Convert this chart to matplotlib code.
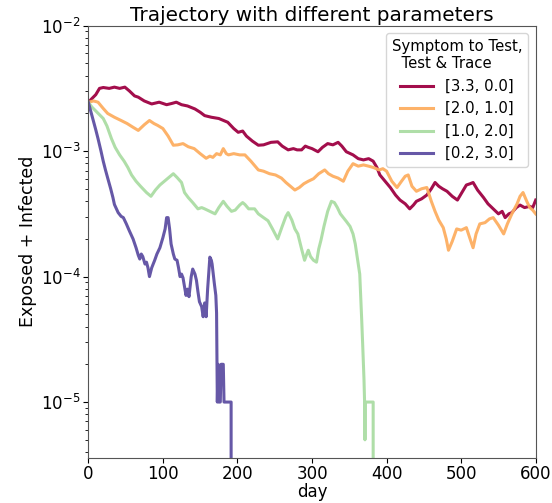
import numpy as np
import matplotlib
matplotlib.use("Agg")
import matplotlib.pyplot as plt

# ---- data (log10 of Exposed + Infected fraction) ----
red_days = [0, 5, 10, 15, 20, 28, 35, 42, 49, 55, 62, 67, 75, 85, 95, 105, 112, 118, 125, 133,
            143, 150, 156, 165, 175, 187, 195, 201, 207, 212, 220, 228, 235, 245, 254, 260, 268,
            275, 280, 286, 291, 295, 300, 308, 314, 321, 328, 335, 340, 346, 355, 362, 369, 376,
            382, 387, 391, 398, 405, 412, 418, 425, 431, 436, 440, 447, 454, 460, 465, 470, 475,
            481, 488, 495, 501, 507, 512, 516, 522, 530, 536, 543, 550, 555, 559, 564, 568, 574,
            579, 585, 592, 596, 600]
red_log = [-2.611, -2.58, -2.55, -2.50, -2.493, -2.50, -2.49, -2.50, -2.49, -2.52, -2.56, -2.57,
           -2.60, -2.624, -2.61, -2.63, -2.62, -2.61, -2.63, -2.64, -2.664, -2.69, -2.717, -2.73,
           -2.74, -2.77, -2.82, -2.85, -2.84, -2.88, -2.92, -2.953, -2.95, -2.93, -2.926, -2.96,
           -2.99, -2.98, -2.99, -2.99, -2.96, -2.97, -2.98, -3.005, -2.97, -2.94, -2.95, -2.93,
           -2.96, -3.005, -3.03, -3.06, -3.07, -3.06, -3.08, -3.13, -3.19, -3.24, -3.29, -3.35,
           -3.39, -3.42, -3.46, -3.43, -3.40, -3.38, -3.35, -3.30, -3.25, -3.28, -3.30, -3.32,
           -3.36, -3.39, -3.33, -3.27, -3.26, -3.25, -3.31, -3.37, -3.42, -3.46, -3.50, -3.48,
           -3.53, -3.50, -3.49, -3.45, -3.43, -3.45, -3.44, -3.45, -3.39]

orange_days = [0, 7, 13, 20, 26, 35, 44, 52, 60, 67, 75, 82, 88, 93, 100, 107, 114, 120, 127, 134,
               142, 150, 158, 163, 167, 172, 177, 181, 185, 188, 195, 203, 210, 218, 228, 235, 243,
               251, 259, 265, 271, 277, 283, 289, 295, 302, 309, 317, 322, 328, 335, 342, 348, 355,
               362, 369, 376, 382, 390, 395, 400, 407, 414, 420, 425, 429, 434, 440, 447, 454, 460,
               465, 470, 476, 480, 483, 488, 494, 500, 507, 512, 516, 520, 525, 532, 538, 543, 550,
               557, 562, 568, 575, 579, 583, 588, 592, 596, 600]
orange_log = [-2.611, -2.60, -2.61, -2.66, -2.70, -2.73, -2.756, -2.78, -2.81, -2.835, -2.79,
              -2.756, -2.78, -2.795, -2.82, -2.88, -2.953, -2.95, -2.94, -2.965, -2.98, -3.02,
              -3.057, -3.04, -3.05, -3.02, -3.03, -2.98, -3.02, -3.03, -3.02, -3.03, -3.03, -3.08,
              -3.15, -3.16, -3.18, -3.19, -3.215, -3.25, -3.28, -3.31, -3.29, -3.26, -3.24, -3.22,
              -3.18, -3.15, -3.18, -3.20, -3.215, -3.24, -3.16, -3.10, -3.12, -3.11, -3.12, -3.13,
              -3.15, -3.14, -3.16, -3.24, -3.29, -3.24, -3.20, -3.19, -3.28, -3.32, -3.30, -3.29,
              -3.40, -3.48, -3.55, -3.61, -3.70, -3.79, -3.72, -3.62, -3.63, -3.61, -3.70, -3.77,
              -3.66, -3.58, -3.57, -3.54, -3.53, -3.59, -3.66, -3.58, -3.50, -3.42, -3.36, -3.33,
              -3.40, -3.45, -3.47, -3.50]

green_days = [0, 5, 10, 15, 20, 25, 31, 36, 42, 48, 53, 58, 64, 70, 78, 84, 90, 96, 102, 108, 114,
              119, 125, 129, 134, 140, 147, 152, 156, 163, 170, 175, 181, 186, 192, 197, 203, 207,
              210, 215, 223, 228, 235, 241, 247, 254, 260, 265, 268, 273, 277, 281, 286, 290, 293,
              295, 298, 302, 306, 309, 312, 316, 321, 326, 330, 334, 338, 342, 346, 351, 355, 358,
              362, 364, 366.6, 368, 369.7, 370.5, 371, 371.5, 382, 382.5]
green_log = [-2.611, -2.65, -2.68, -2.71, -2.74, -2.80, -2.90, -2.97, -3.03, -3.08, -3.13, -3.19,
             -3.24, -3.28, -3.33, -3.36, -3.31, -3.27, -3.24, -3.21, -3.18, -3.21, -3.25, -3.33,
             -3.37, -3.41, -3.46, -3.45, -3.46, -3.48, -3.50, -3.45, -3.40, -3.44, -3.48, -3.47,
             -3.43, -3.41, -3.425, -3.46, -3.46, -3.50, -3.53, -3.555, -3.62, -3.70, -3.60, -3.52,
             -3.49, -3.55, -3.62, -3.66, -3.78, -3.87, -3.82, -3.79, -3.84, -3.87, -3.885, -3.78,
             -3.71, -3.60, -3.48, -3.40, -3.41, -3.45, -3.50, -3.53, -3.56, -3.60, -3.66, -3.74,
             -3.90, -3.98, -4.34, -4.55, -4.82, -5.0, -5.301, -5.0, -5.0, -np.inf]

purple_days = [0, 5, 10, 13, 17, 20, 23, 26, 30, 33, 35, 40, 44, 47, 51, 55, 60, 64, 67, 69, 71,
               73, 76, 78, 80, 82, 85, 89, 92, 96, 100, 103, 105, 107, 109, 111, 114, 116, 119, 121,
               123, 125, 127, 129, 131, 133, 135, 138, 140, 143, 145, 147, 149, 152, 154, 156, 158,
               160, 163, 165, 166, 169, 171, 172, 173, 174, 175, 177, 178, 181, 182, 191.5, 192]
purple_log = [-2.611, -2.72, -2.83, -2.90, -3.00, -3.08, -3.15, -3.215, -3.30, -3.37, -3.425,
              -3.49, -3.52, -3.53, -3.58, -3.635, -3.70, -3.77, -3.83, -3.86, -3.82, -3.84, -3.90,
              -3.885, -3.93, -4.00, -3.93, -3.87, -3.82, -3.77, -3.69, -3.62, -3.53, -3.53, -3.62,
              -3.74, -3.82, -3.86, -3.87, -3.93, -4.00, -3.98, -4.01, -4.08, -4.15, -4.10, -4.16,
              -4.00, -3.94, -3.98, -4.03, -4.12, -4.20, -4.24, -4.32, -4.21, -4.32, -4.10, -3.845,
              -3.87, -3.90, -4.055, -4.15, -4.29, -5.0, -4.699, -5.0, -5.0, -4.699, -4.699, -5.0,
              -5.0, -np.inf]

labels = ["[3.3, 0.0]", "[2.0, 1.0]", "[1.0, 2.0]", "[0.2, 3.0]"]
colors = ["#9e0142", "#fdae61", "#abdda4", "#5e4fa2"]
xticks = [0, 100, 200, 300, 400, 500, 600]

series = [(red_days, red_log), (orange_days, orange_log),
          (green_days, green_log), (purple_days, purple_log)]

fig = plt.figure(figsize=(5.52, 5.03), dpi=100)
ax = fig.add_axes([0.16, 0.09, 0.8105, 0.859])
for (d, lg), lab, c in zip(series, labels, colors):
    ax.plot(d, 10.0 ** np.array(lg, dtype=float), color=c, lw=2.2, label=lab, alpha=0.95)

ax.set_yscale("log", nonpositive="clip")
ax.set_xlim(0, 600)
ax.set_ylim(3.6e-6, 1e-2)
ax.set_xticks(xticks)
ax.tick_params(axis="both", which="major", labelsize=12, pad=2)
ax.set_xlabel("day", fontsize=12, labelpad=0)
ax.set_ylabel("Exposed + Infected", fontsize=12.5, labelpad=3)
ax.set_title("Trajectory with different parameters", fontsize=14.4, pad=3)
for s in ax.spines.values():
    s.set_color("#555555")
leg = ax.legend(title="Symptom to Test,\n  Test & Trace", loc="upper right",
                fontsize=10.7, title_fontsize=10.7, handlelength=2.2)
fig.savefig("out.png", dpi=100)
